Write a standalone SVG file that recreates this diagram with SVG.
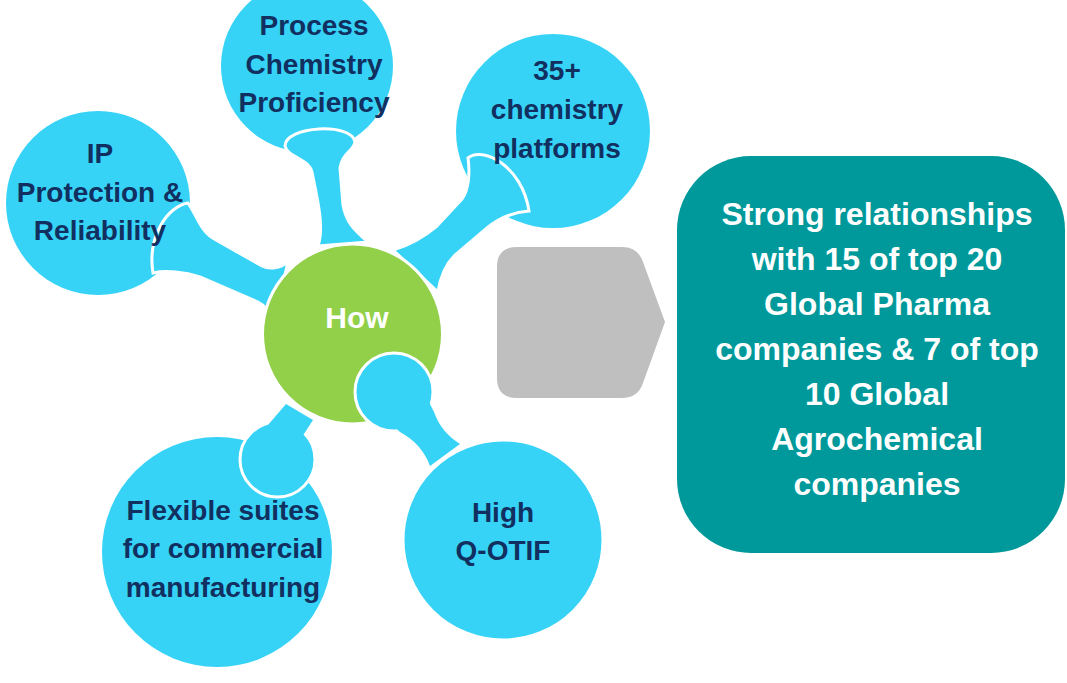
<svg xmlns="http://www.w3.org/2000/svg" width="1067" height="683" viewBox="0 0 1067 683">
<style>
.blue{fill:#36D3F7}
.wo{stroke:#FFFFFF;stroke-width:3}
.lbl{font-family:"Liberation Sans",Arial,sans-serif;font-weight:bold;font-size:28px;fill:#112F5F;text-anchor:middle}
.how{font-family:"Liberation Sans",Arial,sans-serif;font-weight:bold;font-size:30px;fill:#FFFFFF;text-anchor:middle}
.res{font-family:"Liberation Sans",Arial,sans-serif;font-weight:bold;font-size:32px;fill:#FFFFFF;text-anchor:middle}
</style>
<rect width="1067" height="683" fill="#FFFFFF"/>
<g id="node-process"><circle class="blue" cx="307" cy="66" r="86"/></g>
<g id="node-ip"><circle class="blue" cx="98" cy="203" r="92"/></g>
<g id="node-platforms"><circle class="blue" cx="553" cy="131" r="97"/></g>
<g id="node-flexible"><circle class="blue" cx="217" cy="552" r="115"/></g>
<g id="connectors">
<path class="blue wo" d="M285,146 C285,126 352,122 355,142 C353,152 342,153 340,168 L343,205 C346,222 354,230 368,242 L318,246 C323,232 320,212 316,192 L312,172 C308,158 288,158 285,146 Z"/>
<path class="blue wo" d="M468,158 C482,146 522,165 529,211 C515,212 500,217 487,228 L455,255 C445,265 440,278 438,292 L393,250 C410,245 425,236 437,226 L462,199 C469,190 470,172 468,158 Z"/>
<path class="blue wo" d="M188,203 C168,206 147,236 153,273 C166,270 185,272 200,277 L258,302 C266,306 270,312 274,320 L288,262 C280,268 270,270 262,266 L216,240 C200,232 197,215 188,203 Z"/>
<circle class="blue wo" cx="277.5" cy="459.5" r="37.5"/>
<path class="blue" d="M262,432 L286,404 L313,420 L300,440 Z"/>
</g>
<g id="node-how">
<circle cx="352.5" cy="334" r="90" fill="#92D04A" class="wo"/>
<text class="how" x="357" y="328">How</text>
</g>
<g id="connector-qotif">
<circle class="blue wo" cx="394" cy="392" r="39"/>
<path class="blue" d="M385,418 L428,400 L434,412 C440,428 448,436 460,444 L430,466 C425,452 415,440 400,432 Z"/>
</g>
<g id="node-qotif"><circle class="blue wo" cx="503" cy="540" r="100"/></g>
<g id="labels">
<text class="lbl" x="314" y="35">Process</text>
<text class="lbl" x="314" y="73.5">Chemistry</text>
<text class="lbl" x="314" y="112">Proficiency</text>
<text class="lbl" x="100" y="163">IP</text>
<text class="lbl" x="100" y="202">Protection &amp;</text>
<text class="lbl" x="100" y="240">Reliability</text>
<text class="lbl" x="557" y="80">35+</text>
<text class="lbl" x="557" y="119">chemistry</text>
<text class="lbl" x="557" y="158">platforms</text>
<text class="lbl" x="223" y="520">Flexible suites</text>
<text class="lbl" x="223" y="558">for commercial</text>
<text class="lbl" x="223" y="597">manufacturing</text>
<text class="lbl" x="503" y="522">High</text>
<text class="lbl" x="503" y="560">Q-OTIF</text>
</g>
<g id="arrow"><path fill="#BFBFBF" d="M517,247 L622,247 Q638,247 643,262 L665,322 L643,383 Q638,398 622,398 L517,398 Q497,398 497,378 L497,267 Q497,247 517,247 Z"/></g>
<g id="node-result">
<rect x="677" y="156" width="388" height="397" rx="74" fill="#00999B"/>
<text class="res" x="877" y="225">Strong relationships</text>
<text class="res" x="877" y="270">with 15 of top 20</text>
<text class="res" x="877" y="315">Global Pharma</text>
<text class="res" x="877" y="360">companies &amp; 7 of top</text>
<text class="res" x="877" y="405">10 Global</text>
<text class="res" x="877" y="450">Agrochemical</text>
<text class="res" x="877" y="495">companies</text>
</g>
</svg>
